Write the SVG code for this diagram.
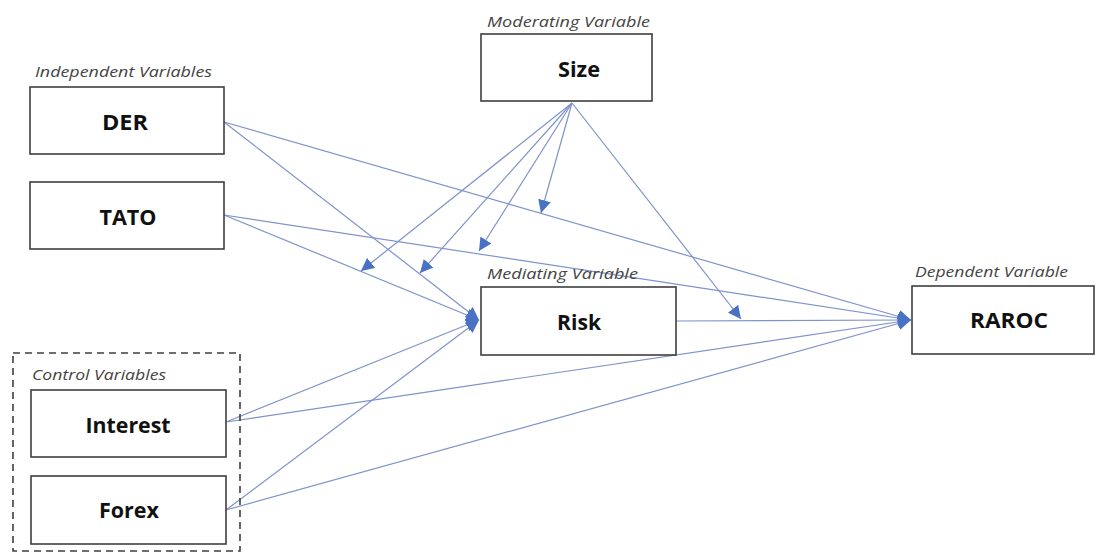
<svg xmlns="http://www.w3.org/2000/svg" width="1097" height="559" viewBox="0 0 1097 559">
<style>
.box{fill:#fff;stroke:#3f3f3f;stroke-width:1.6}
.lbl{font-family:"Open Sans","Liberation Sans",sans-serif;font-weight:bold;font-size:21px;fill:#111;text-anchor:middle}
.cap{font-family:"Open Sans","Liberation Sans",sans-serif;font-style:italic;font-size:14px;fill:#444}
.ln{stroke:#7f93cb;stroke-width:1.2;fill:none}
.arr{marker-end:url(#ah)}
</style>
<defs>
<marker id="ah" markerUnits="userSpaceOnUse" markerWidth="15" markerHeight="13" refX="13" refY="6.5" orient="auto">
<path d="M0,0 L13,6.5 L0,13 z" fill="#4a72c4"/>
</marker>
</defs>
<rect x="0" y="0" width="1097" height="559" fill="#fff"/>
<g id="connectors">
<line class="ln arr" x1="224" y1="122" x2="911" y2="320"/>
<line class="ln arr" x1="224" y1="122" x2="479" y2="320"/>
<line class="ln arr" x1="224" y1="215" x2="911" y2="320"/>
<line class="ln arr" x1="224" y1="215" x2="479" y2="320"/>
<line class="ln arr" x1="676" y1="321" x2="911" y2="320"/>
<line class="ln arr" x1="226" y1="422" x2="479" y2="320"/>
<line class="ln arr" x1="226" y1="422" x2="911" y2="320"/>
<line class="ln arr" x1="226" y1="510" x2="479" y2="320"/>
<line class="ln arr" x1="226" y1="510" x2="911" y2="320"/>
<line class="ln arr" x1="572" y1="103" x2="361" y2="271"/>
<line class="ln arr" x1="572" y1="103" x2="420" y2="273"/>
<line class="ln arr" x1="572" y1="103" x2="479" y2="251"/>
<line class="ln arr" x1="572" y1="103" x2="541" y2="213"/>
<line class="ln arr" x1="572" y1="103" x2="741" y2="319"/>
</g>
<g id="control-group">
<rect x="13" y="353" width="227" height="198" fill="none" stroke="#3f3f3f" stroke-width="1.6" stroke-dasharray="7,5"/>
<text class="cap" x="32" y="380" textLength="134" lengthAdjust="spacingAndGlyphs">Control Variables</text>
</g>
<g id="DER">
<text class="cap" x="35" y="77" textLength="177" lengthAdjust="spacingAndGlyphs">Independent Variables</text>
<rect class="box" x="30" y="87" width="194" height="67"/>
<text class="lbl" x="125" y="130" textLength="46" lengthAdjust="spacingAndGlyphs">DER</text>
</g>
<g id="TATO">
<rect class="box" x="30" y="182" width="194" height="67"/>
<text class="lbl" x="128" y="225" textLength="57" lengthAdjust="spacingAndGlyphs">TATO</text>
</g>
<g id="Size">
<text class="cap" x="487" y="27" textLength="163" lengthAdjust="spacingAndGlyphs">Moderating Variable</text>
<rect class="box" x="481" y="34" width="171" height="67"/>
<text class="lbl" x="579" y="77" textLength="42" lengthAdjust="spacingAndGlyphs">Size</text>
</g>
<g id="Risk">
<text class="cap" x="487" y="279" textLength="151" lengthAdjust="spacingAndGlyphs">Mediating Variable</text>
<rect class="box" x="481" y="287" width="195" height="68"/>
<text class="lbl" x="579" y="330" textLength="44" lengthAdjust="spacingAndGlyphs">Risk</text>
</g>
<g id="RAROC">
<text class="cap" x="915" y="277" textLength="153" lengthAdjust="spacingAndGlyphs">Dependent Variable</text>
<rect class="box" x="912" y="286" width="182" height="68"/>
<text class="lbl" x="1009" y="328" textLength="78" lengthAdjust="spacingAndGlyphs">RAROC</text>
</g>
<g id="Interest">
<rect class="box" x="31" y="390" width="195" height="67"/>
<text class="lbl" x="128" y="433" textLength="85" lengthAdjust="spacingAndGlyphs">Interest</text>
</g>
<g id="Forex">
<rect class="box" x="31" y="476" width="195" height="68"/>
<text class="lbl" x="129" y="518" textLength="60" lengthAdjust="spacingAndGlyphs">Forex</text>
</g>
</svg>
